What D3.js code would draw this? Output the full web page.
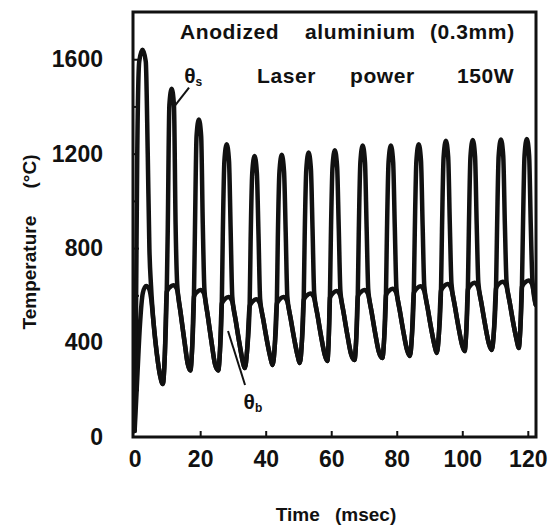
<!DOCTYPE html>
<html>
<head>
<meta charset="utf-8">
<script src="https://cdn.jsdelivr.net/npm/d3@7"></script>
<style>
  body { margin: 0; background: #fff; }
  svg text { font-family: "Liberation Sans", Arial, sans-serif; font-weight: bold; fill: #111; }
</style>
</head>
<body>
<div id="chart"></div>
<script>
// Ticks
var xTicks = [0, 20, 40, 60, 80, 100, 120];
var yTicks = [0, 400, 800, 1200, 1600];
var yMarks = [200, 400, 600, 800, 1000, 1200, 1400, 1600];
var xMarks = [20, 40, 60, 80, 100, 120];

// θs : surface temperature [msec, °C]
var surfaceTemp = [
  [0,25],[0.4,500],[0.8,1200],[1.4,1590],[2.4,1640],[3.4,1590],[4.0,1200],[4.5,800],[5.0,640],[5.8,480],[6.8,350],[7.8,258],[8.6,225],
  [9.2,342],[9.8,615],[10.1,870],[10.6,1405],[11.3,1475],[12.0,1405],[12.5,900],[13.0,645],[14.0,529],[15.2,406],[16.2,310],[17.0,282],
  [17.55,376],[18.1,595],[18.4,870],[18.9,1275],[19.6,1345],[20.3,1275],[20.8,900],[21.3,625],[22.3,515],[23.5,399],[24.5,310],[25.5,282],
  [26.05,367],[26.6,565],[26.9,850],[27.4,1170],[28.1,1240],[28.8,1170],[29.3,880],[29.8,595],[30.8,497],[32.0,395],[33.0,320],[33.6,292],
  [34.35,371],[35.1,555],[35.4,830],[35.9,1120],[36.6,1190],[37.3,1120],[37.8,860],[38.3,585],[39.3,494],[40.5,399],[41.5,333],[42.1,305],
  [42.75,383],[43.4,565],[43.7,840],[44.2,1125],[44.9,1195],[45.6,1125],[46.1,870],[46.6,595],[47.6,503],[48.8,408],[49.8,341],[50.4,313],
  [51.0,393],[51.6,580],[51.9,850],[52.4,1135],[53.1,1205],[53.8,1135],[54.3,880],[54.8,610],[55.8,517],[57.0,419],[58.0,350],[58.8,322],
  [59.2,402],[59.6,590],[59.9,855],[60.4,1145],[61.1,1215],[61.8,1145],[62.3,885],[62.8,620],[63.8,525],[65.0,426],[66.0,354],[67.1,326],
  [67.6,407],[68.1,595],[68.4,860],[68.9,1165],[69.6,1235],[70.3,1165],[70.8,890],[71.3,625],[72.3,531],[73.5,433],[74.5,363],[75.6,335],
  [76.15,415],[76.7,600],[77.0,860],[77.5,1165],[78.2,1235],[78.9,1165],[79.4,890],[79.9,630],[80.9,537],[82.1,440],[83.1,371],[84.0,343],
  [84.6,423],[85.2,610],[85.5,865],[86.0,1170],[86.7,1240],[87.4,1170],[87.9,895],[88.4,640],[89.4,548],[90.6,452],[91.6,384],[92.2,356],
  [92.85,435],[93.5,620],[93.8,870],[94.3,1185],[95.0,1255],[95.7,1185],[96.2,900],[96.7,650],[97.7,557],[98.9,461],[99.9,392],[100.7,364],
  [101.2,442],[101.7,625],[102.0,870],[102.5,1188],[103.2,1258],[103.9,1188],[104.4,900],[104.9,655],[105.9,562],[107.1,465],[108.1,397],[109.0,369],
  [109.65,447],[110.3,630],[110.6,870],[111.1,1190],[111.8,1260],[112.5,1190],[113.0,900],[113.5,660],[114.5,568],[115.7,472],[116.7,405],[117.2,377],
  [117.7,454],[118.2,635],[118.5,870],[119.0,1192],[119.7,1262],[120.4,1192],[120.9,900],[121.4,665],[122.4,560]
];

// θb : back temperature [msec, °C]
var backTemp = [
  [0,25],[0.8,250],[1.6,470],[2.5,610],[3.5,640],[4.5,625],[5.0,590],[5.8,480],[6.8,350],[7.8,258],[8.6,225],
  [9.2,342],[9.8,615],[10.8,635],[11.8,643],[12.8,630],[14.0,529],[15.2,406],[16.2,310],[17.0,282],
  [17.55,376],[18.1,595],[19.1,615],[20.1,623],[21.1,610],[22.3,515],[23.5,399],[24.5,310],[25.5,282],
  [26.05,367],[26.6,565],[27.6,585],[28.6,593],[29.6,580],[30.8,497],[32.0,395],[33.0,320],[33.6,292],
  [34.35,371],[35.1,555],[36.1,575],[37.1,583],[38.1,570],[39.3,494],[40.5,399],[41.5,333],[42.1,305],
  [42.75,383],[43.4,565],[44.4,585],[45.4,593],[46.4,580],[47.6,503],[48.8,408],[49.8,341],[50.4,313],
  [51.0,393],[51.6,580],[52.6,600],[53.6,608],[54.6,595],[55.8,517],[57.0,419],[58.0,350],[58.8,322],
  [59.2,402],[59.6,590],[60.6,610],[61.6,618],[62.6,605],[63.8,525],[65.0,426],[66.0,354],[67.1,326],
  [67.6,407],[68.1,595],[69.1,615],[70.1,623],[71.1,610],[72.3,531],[73.5,433],[74.5,363],[75.6,335],
  [76.15,415],[76.7,600],[77.7,620],[78.7,628],[79.7,615],[80.9,537],[82.1,440],[83.1,371],[84.0,343],
  [84.6,423],[85.2,610],[86.2,630],[87.2,638],[88.2,625],[89.4,548],[90.6,452],[91.6,384],[92.2,356],
  [92.85,435],[93.5,620],[94.5,640],[95.5,648],[96.5,635],[97.7,557],[98.9,461],[99.9,392],[100.7,364],
  [101.2,442],[101.7,625],[102.7,645],[103.7,653],[104.7,640],[105.9,562],[107.1,465],[108.1,397],[109.0,369],
  [109.65,447],[110.3,630],[111.3,650],[112.3,658],[113.3,645],[114.5,568],[115.7,472],[116.7,405],[117.2,377],
  [117.7,454],[118.2,635],[119.2,655],[120.2,663],[121.2,650],[122.4,560]
];

// curve labels, in data units: label position and leader line
var curveLabels = [
  {sub: "s", at: [17.9, 1529], from: [16.6, 1480], to: [12.0, 1398]},
  {sub: "b", at: [36.1, 150], from: [33.7, 220], to: [28.5, 449]}
];

var W = 557, H = 525;
var frame = {left: 133, right: 536, top: 12, bottom: 437};

var svg = d3.select("#chart").append("svg")
  .attr("width", W)
  .attr("height", H);

var x = d3.scaleLinear().domain([-0.5, 122.5]).range([frame.left, frame.right]);
var y = d3.scaleLinear().domain([0, 1800]).range([frame.bottom, frame.top]);

svg.append("clipPath").attr("id", "clip")
  .append("rect")
    .attr("x", frame.left).attr("y", frame.top)
    .attr("width", frame.right - frame.left).attr("height", frame.bottom - frame.top);

// Inward tick marks
svg.append("g")
  .attr("transform", "translate(" + frame.left + ",0)")
  .call(d3.axisLeft(y).tickValues(yMarks).tickSize(-6).tickFormat(""))
  .call(g => g.select(".domain").remove())
  .call(g => g.selectAll("line").attr("stroke", "#111").attr("stroke-width", 2));
svg.append("g")
  .attr("transform", "translate(0," + frame.bottom + ")")
  .call(d3.axisBottom(x).tickValues(xMarks).tickSize(-6).tickFormat(""))
  .call(g => g.select(".domain").remove())
  .call(g => g.selectAll("line").attr("stroke", "#111").attr("stroke-width", 2));

// Tick labels
svg.append("g")
  .attr("transform", "translate(" + frame.left + ",0)")
  .call(d3.axisLeft(y).tickValues(yTicks).tickSize(0).tickPadding(30).tickFormat(d3.format("d")))
  .call(g => g.select(".domain").remove())
  .call(g => g.selectAll("text").style("font-size", "23px").attr("fill", "#111"));
svg.append("g")
  .attr("transform", "translate(0," + frame.bottom + ")")
  .call(d3.axisBottom(x).tickValues(xTicks).tickSize(0).tickPadding(14).tickFormat(d3.format("d")))
  .call(g => g.select(".domain").remove())
  .call(g => g.selectAll("text").style("font-size", "23px").attr("fill", "#111"));

// Curves
var line = d3.line()
  .x(d => x(d[0]))
  .y(d => y(d[1]))
  .curve(d3.curveMonotoneX);

var plot = svg.append("g").attr("clip-path", "url(#clip)");
[surfaceTemp, backTemp].forEach(function(series) {
  plot.append("path")
    .datum(series)
    .attr("fill", "none")
    .attr("stroke", "#111")
    .attr("stroke-width", 4.5)
    .attr("stroke-linejoin", "round")
    .attr("stroke-linecap", "round")
    .attr("d", line);
});

// Frame
svg.append("rect")
  .attr("x", frame.left).attr("y", frame.top)
  .attr("width", frame.right - frame.left).attr("height", frame.bottom - frame.top)
  .attr("fill", "none").attr("stroke", "#111").attr("stroke-width", 3);

// Curve labels
curveLabels.forEach(function(c) {
  svg.append("line")
    .attr("x1", x(c.from[0])).attr("y1", y(c.from[1]))
    .attr("x2", x(c.to[0])).attr("y2", y(c.to[1]))
    .attr("stroke", "#111").attr("stroke-width", 2);
  var t = svg.append("text")
    .attr("x", x(c.at[0])).attr("y", y(c.at[1]))
    .attr("dy", "0.35em")
    .attr("text-anchor", "middle")
    .style("font-size", "21px");
  t.append("tspan").text("θ");
  t.append("tspan").attr("dy", "0.25em").style("font-size", "12px").text(c.sub);
});

// Header texts
var header = [
  {text: "Anodized", x: 180, y: 32},
  {text: "aluminium", x: 305, y: 32},
  {text: "(0.3mm)", x: 430, y: 32},
  {text: "Laser", x: 257, y: 76},
  {text: "power", x: 350, y: 76},
  {text: "150W", x: 457, y: 76}
];
svg.selectAll("text.header").data(header).enter().append("text")
  .attr("class", "header")
  .attr("x", d => d.x).attr("y", d => d.y)
  .attr("dy", "0.35em")
  .style("font-size", "21px")
  .style("letter-spacing", "0.6px")
  .text(d => d.text);

// Axis titles
svg.append("text")
  .attr("x", 336).attr("y", 514)
  .attr("dy", "0.35em")
  .attr("text-anchor", "middle")
  .style("font-size", "19px")
  .style("word-spacing", "10px")
  .text("Time (msec)");
svg.append("text")
  .attr("transform", "translate(29,242) rotate(-90)")
  .attr("dy", "0.35em")
  .attr("text-anchor", "middle")
  .style("font-size", "19px")
  .style("word-spacing", "22px")
  .text("Temperature (°C)");
</script>
</body>
</html>
